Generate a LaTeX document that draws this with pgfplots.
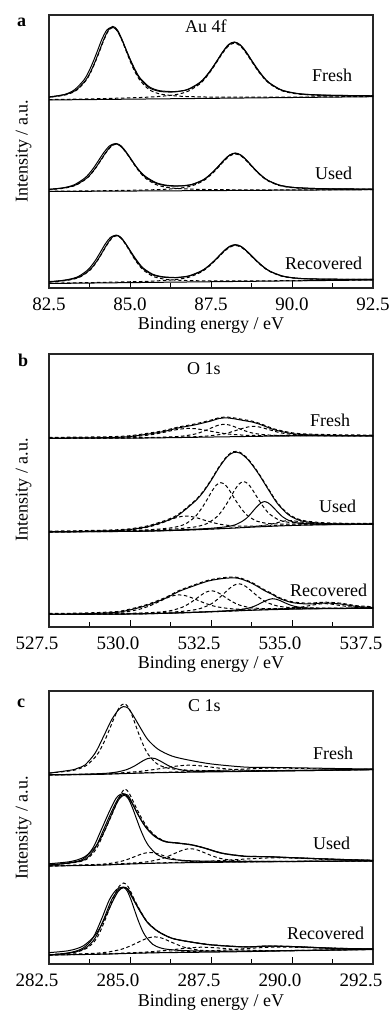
\documentclass[border=0pt]{standalone}
\usepackage{fontspec}
\setmainfont{Liberation Serif}
\usepackage{pgfplots}
\pgfplotsset{compat=1.18}
\pgfplotsset{
 xpsaxis/.style={anchor=south west, scale only axis, width=324pt, height=273pt, ymin=0, ymax=273, ytick=\empty,
   xtick pos=left, tick align=inside, major tick length=7pt, minor tick length=5pt,
   axis line style={line width=1.2pt, black!85}, every tick/.style={black, line width=1pt},
   /pgf/number format/assume math mode=true,
   xticklabel style={font=\fontsize{19}{21}\selectfont, anchor=base, yshift=-22.5pt,
     /pgf/number format/fixed, /pgf/number format/fixed zerofill, /pgf/number format/precision=1,
     /pgf/number format/assume math mode=true}},
 sol/.style={black, line width=1pt, smooth, tension=0.5, no marks},
 das/.style={black, line width=1pt, smooth, tension=0.5, no marks, dash pattern=on 3.5pt off 2.5pt},
}
\newcommand{\lab}{\fontsize{18}{20}\selectfont}
\begin{document}
\begin{tikzpicture}
\useasboundingbox (0pt,0pt) rectangle (389pt,1014pt);
% ================= Panel a: Au 4f =================
\begin{axis}[xpsaxis, at={(49pt,726pt)}, xmin=82.5, xmax=92.5,
  xtick={82.5,85,87.5,90,92.5}, minor xtick={83.75,86.25,88.75,91.25}]
% Fresh
\addplot[sol] coordinates {(82.5,188) (92.5,191.3)};
\addplot[das] coordinates {(82.23,190.0) (82.79,191.8) (83.07,193.6) (83.35,197.7) (83.63,207.0) (83.77,214.6) (83.91,224.5) (84.05,235.9) (84.19,247.6) (84.33,256.9) (84.47,260.6) (84.61,257.0) (84.75,247.7) (84.89,236.2) (85.03,224.8) (85.17,215.1) (85.31,207.5) (85.59,198.4) (85.87,194.5) (86.15,192.9) (86.71,191.5) (87.83,190.8) (90.07,190.9) (92.5,191.5)};
\addplot[das] coordinates {(82.5,188.4) (83.9,189.2) (85.34,190.5) (86.06,192.0) (86.42,193.4) (86.78,196.6) (87.14,203.7) (87.32,209.6) (87.5,217.2) (87.68,225.9) (87.86,234.9) (88.04,242.0) (88.22,244.9) (88.40,242.1) (88.58,235.1) (88.76,226.3) (88.94,217.6) (89.12,210.2) (89.30,204.4) (89.66,197.6) (90.02,194.7) (90.38,193.4) (91.1,192.4) (92.54,192.0)};
\addplot[sol] coordinates {(82.5,191.1) (82.79,192.3) (83.07,194.1) (83.35,198.3) (83.63,207.7) (83.77,215.3) (83.91,225.3) (84.05,236.7) (84.19,248.5) (84.33,257.8) (84.47,261.6) (84.61,258.1) (84.75,248.8) (84.89,237.4) (85.03,226.1) (85.17,216.6) (85.31,209.1) (85.59,200.3) (85.87,196.9) (86.15,196.0) (86.42,196.2) (86.78,198.6) (87.14,205.2) (87.32,210.9) (87.5,218.4) (87.68,227.0) (87.86,235.9) (88.04,242.9) (88.22,245.7) (88.40,242.8) (88.58,235.8) (88.76,226.9) (88.94,218.2) (89.12,210.7) (89.30,204.9) (89.66,198.0) (90.02,195.1) (90.38,193.7) (91.1,192.7) (92.5,192.2)};
\addplot[sol] coordinates {(82.5,190.6) (82.74,192.0) (83.02,193.9) (83.29,198.3) (83.57,207.7) (83.71,215.3) (83.85,225.3) (83.99,236.7) (84.13,248.5) (84.28,257.8) (84.43,260.6) (84.58,258.5) (84.73,249.5) (84.88,238.2) (85.03,227.0) (85.17,217.6) (85.31,210.0) (85.59,201.3) (85.87,197.6) (86.15,196.6) (86.42,196.5) (86.78,198.3) (87.14,204.6) (87.32,210.2) (87.5,217.9) (87.68,226.8) (87.86,236.0) (88.04,243.4) (88.22,246.0) (88.40,243.3) (88.58,236.4) (88.76,227.4) (88.94,218.8) (89.12,211.1) (89.30,205.2) (89.66,198.3) (90.02,195.3) (90.38,193.8) (91.1,192.8) (92.5,192.2)};
% Used
\addplot[sol] coordinates {(82.5,96.5) (92.5,98.3)};
\addplot[das] coordinates {(82.09,97.8) (82.71,98.9) (83.02,100.1) (83.33,102.8) (83.64,108.9) (83.795,113.8) (83.95,120.3) (84.105,127.8) (84.26,135.3) (84.415,141.4) (84.57,143.9) (84.725,141.5) (84.88,135.4) (85.035,128.0) (85.19,120.5) (85.345,114.1) (85.5,109.2) (85.81,103.3) (86.12,100.7) (86.43,99.6) (87.05,98.7) (88.29,98.2) (90.77,98.2) (92.5,98.4)};
\addplot[das] coordinates {(82.5,96.7) (84.23,97.3) (85.57,98.1) (86.24,99.0) (86.575,100.0) (86.91,102.1) (87.245,106.8) (87.41,110.7) (87.58,115.7) (87.75,121.5) (87.915,127.4) (88.08,132.1) (88.25,134.0) (88.42,132.2) (88.585,127.5) (88.75,121.7) (88.92,115.9) (89.09,111.0) (89.255,107.2) (89.59,102.6) (89.925,100.6) (90.26,99.8) (90.93,99.1) (92.27,98.8) (92.5,98.7)};
\addplot[sol] coordinates {(82.5,98.7) (82.71,99.2) (83.02,100.4) (83.33,103.1) (83.64,109.3) (83.795,114.2) (83.95,120.7) (84.105,128.3) (84.26,135.8) (84.415,141.9) (84.57,144.5) (84.725,142.1) (84.88,136.1) (85.035,128.8) (85.19,121.3) (85.345,115.0) (85.5,110.2) (85.81,104.6) (86.12,102.3) (86.43,101.9) (86.575,102.1) (86.91,103.6) (87.245,108.0) (87.41,111.8) (87.58,116.7) (87.75,122.4) (87.915,128.2) (88.08,132.8) (88.25,134.7) (88.42,132.8) (88.585,128.1) (88.75,122.2) (88.92,116.4) (89.09,111.4) (89.255,107.6) (89.59,103.0) (89.925,100.9) (90.26,100.1) (90.93,99.3) (92.27,98.9) (92.5,98.85)};
\addplot[sol] coordinates {(82.5,98.4) (82.65,99.1) (82.96,100.3) (83.27,103.1) (83.58,109.3) (83.735,114.2) (83.89,120.7) (84.045,128.3) (84.2,135.8) (84.36,141.9) (84.52,144.2) (84.69,142.4) (84.85,136.8) (85.01,129.6) (85.17,122.2) (85.33,115.9) (85.5,111.0) (85.81,105.3) (86.12,102.8) (86.43,102.1) (86.575,102.0) (86.91,103.3) (87.245,107.6) (87.41,111.5) (87.58,116.6) (87.75,122.5) (87.915,128.5) (88.08,133.1) (88.25,135.0) (88.42,133.0) (88.585,128.3) (88.75,122.4) (88.92,116.6) (89.09,111.5) (89.255,107.7) (89.59,103.1) (89.925,101.0) (90.26,100.1) (90.93,99.3) (92.27,98.9) (92.5,98.85)};
% Recovered
\addplot[sol] coordinates {(82.5,4.5) (92.5,8.0)};
\addplot[das] coordinates {(82.34,5.8) (82.9,7.0) (83.18,8.3) (83.46,11.0) (83.74,17.1) (83.88,22.1) (84.02,28.5) (84.16,36.1) (84.30,43.6) (84.44,49.8) (84.58,52.2) (84.72,49.9) (84.86,43.8) (85.0,36.4) (85.14,28.9) (85.28,22.6) (85.42,17.7) (85.70,11.8) (85.98,9.3) (86.26,8.2) (86.82,7.4) (87.94,7.0) (90.18,7.4) (92.5,8.1)};
\addplot[das] coordinates {(82.5,4.8) (83.93,5.5) (85.37,6.5) (86.09,7.6) (86.45,8.6) (86.81,10.7) (87.17,15.5) (87.35,19.3) (87.53,24.3) (87.71,30.0) (87.89,35.9) (88.07,40.6) (88.25,42.5) (88.43,40.8) (88.61,36.1) (88.79,30.4) (88.97,24.8) (89.15,19.9) (89.33,16.2) (89.69,11.7) (90.05,9.9) (90.41,9.1) (91.13,8.6) (92.57,8.5)};
\addplot[sol] coordinates {(82.5,6.4) (82.9,7.3) (83.18,8.7) (83.46,11.4) (83.74,17.6) (83.88,22.6) (84.02,29.0) (84.16,36.6) (84.30,44.2) (84.44,50.4) (84.58,52.9) (84.72,50.6) (84.86,44.6) (85.0,37.2) (85.14,29.8) (85.28,23.6) (85.42,18.8) (85.70,13.1) (85.98,11.0) (86.26,10.4) (86.45,10.5) (86.81,12.1) (87.17,16.6) (87.35,20.2) (87.53,25.1) (87.71,30.7) (87.89,36.6) (88.07,41.2) (88.25,43.0) (88.43,41.3) (88.61,36.6) (88.79,30.8) (88.97,25.2) (89.15,20.3) (89.33,16.5) (89.69,12.0) (90.05,10.1) (90.41,9.3) (91.13,8.8) (92.5,8.6)};
\addplot[sol] coordinates {(82.5,6.0) (82.84,7.2) (83.12,8.7) (83.40,11.4) (83.68,17.6) (83.82,22.6) (83.96,29.0) (84.10,36.6) (84.24,44.2) (84.39,50.4) (84.54,52.6) (84.69,51.0) (84.84,45.4) (84.99,38.2) (85.14,30.8) (85.28,24.6) (85.42,19.6) (85.70,13.8) (85.98,11.4) (86.26,10.6) (86.45,10.4) (86.81,11.8) (87.17,16.2) (87.35,19.9) (87.53,24.9) (87.71,30.8) (87.89,36.9) (88.07,41.6) (88.25,43.4) (88.43,41.6) (88.61,36.8) (88.79,31.0) (88.97,25.4) (89.15,20.4) (89.33,16.6) (89.69,12.1) (90.05,10.1) (90.41,9.3) (91.13,8.8) (92.5,8.6)};
\end{axis}
% ================= Panel b: O 1s =================
\begin{axis}[xpsaxis, at={(49pt,387pt)}, xmin=527.5, xmax=537.5,
  xtick={527.5,530,532.5,535,537.5}, minor xtick={528.75,531.25,533.75,536.25},
  xticklabel style={xshift=-12pt}]
% Fresh
\addplot[sol] coordinates {(527.5,188.7) (530,188.9) (531,189.2) (532,189.7) (533,190.2) (534,190.7) (535,191.0) (537.5,191.0)};
\addplot[das] coordinates {(527.5,188.9) (528.2,189.0) (529.1,189.3) (529.55,189.5) (530.0,190.1) (530.45,191.4) (530.675,192.4) (530.9,193.7) (531.125,195.2) (531.35,196.8) (531.575,198.0) (531.8,198.6) (532.025,198.25) (532.25,197.2) (532.475,195.9) (532.7,194.55) (532.925,193.4) (533.15,192.6) (533.6,191.7) (534.05,191.4) (534.5,191.3) (535.4,191.3) (537.2,191.1) (537.5,191.1)};
\addplot[das] coordinates {(527.5,188.8) (529.3,189.0) (530.5,189.4) (531.1,189.9) (531.4,190.3) (531.7,191.2) (532.0,192.9) (532.15,194.3) (532.3,196.1) (532.45,198.2) (532.6,200.25) (532.75,202.0) (532.9,202.65) (533.05,202.1) (533.2,200.55) (533.35,198.6) (533.5,196.7) (533.65,195.1) (533.8,193.8) (534.1,192.4) (534.4,191.8) (534.7,191.55) (535.3,191.4) (536.5,191.2) (537.5,191.1)};
\addplot[das] coordinates {(527.5,188.75) (529.9,189.0) (531.2,189.6) (531.85,190.1) (532.175,190.5) (532.5,191.3) (532.825,192.7) (532.99,193.8) (533.15,195.3) (533.31,196.95) (533.475,198.6) (533.64,200.0) (533.8,200.6) (533.96,200.2) (534.125,198.9) (534.29,197.4) (534.45,195.8) (534.61,194.5) (534.775,193.5) (535.1,192.3) (535.425,191.8) (535.75,191.5) (536.4,191.3) (537.5,191.15)};
\addplot[sol] coordinates {(527.5,188.9) (528.5,189.1) (529.5,189.5) (530.0,190.5) (530.5,192.6) (531.0,195.2) (531.5,199.1) (532.0,202.1) (532.5,206.0) (532.75,208.5) (533.0,209.1) (533.25,208.0) (533.5,206.5) (533.75,205.1) (534.0,202.8) (534.25,199.6) (534.5,196.8) (535.0,193.4) (535.5,192.2) (536.5,191.5) (537.5,191.2)};
\addplot[das] coordinates {(527.5,189.6) (528.5,189.9) (529.5,190.4) (530.0,191.3) (530.5,193.5) (531.0,196.1) (531.5,200.0) (532.0,203.0) (532.5,206.9) (532.75,209.3) (533.0,209.9) (533.25,208.9) (533.5,207.4) (533.75,206.0) (534.0,203.6) (534.25,200.5) (534.5,197.6) (535.0,194.2) (535.5,192.9) (536.5,192.2) (537.5,191.9)};
% Used
\addplot[sol] coordinates {(527.5,95.0) (530,95.6) (531,96.2) (532,97.2) (533,98.6) (534,100.2) (535,101.5) (536,102.2) (537.5,102.7)};
\addplot[das] coordinates {(527.5,95.2) (528.5,95.65) (529.3,96.1) (529.7,96.6) (530.1,97.5) (530.5,99.5) (530.7,101.1) (530.9,103.1) (531.1,105.5) (531.3,108.0) (531.5,110.0) (531.7,110.9) (531.9,110.4) (532.1,108.8) (532.3,106.8) (532.5,104.9) (532.7,103.3) (532.9,102.1) (533.3,100.9) (533.7,100.8) (534.1,101.0) (534.9,101.8) (536.5,102.6) (537.5,102.8)};
\addplot[das] coordinates {(527.5,95.25) (529.5,96.1) (530.6,97.3) (531.15,98.7) (531.425,100.1) (531.7,102.9) (531.975,109.1) (532.11,114.1) (532.25,120.55) (532.39,128.0) (532.525,135.6) (532.66,141.8) (532.8,144.3) (532.94,142.2) (533.075,136.4) (533.21,129.2) (533.35,122.2) (533.49,116.1) (533.625,111.5) (533.9,106.0) (534.175,103.9) (534.45,103.1) (535.0,102.85) (536.1,102.9) (537.5,103.0)};
\addplot[das] coordinates {(527.5,95.2) (530.2,96.3) (531.3,97.85) (531.85,99.4) (532.125,100.85) (532.4,103.8) (532.675,110.05) (532.81,115.0) (532.95,121.5) (533.09,129.0) (533.225,136.6) (533.36,142.8) (533.5,145.4) (533.64,143.3) (533.775,137.5) (533.91,130.4) (534.05,123.3) (534.19,117.15) (534.325,112.5) (534.6,107.0) (534.875,104.8) (535.15,104.0) (535.7,103.3) (536.8,103.1) (537.5,103.1)};
\addplot[das] coordinates {(527.5,95.0) (530,95.65) (531,96.25) (532,97.3) (532.9,98.6) (533.4,99.5) (533.65,100.0) (533.9,100.7) (534.15,101.7) (534.275,102.4) (534.4,103.2) (534.525,104.2) (534.65,105.15) (534.775,106.0) (534.9,106.4) (535.025,106.3) (535.15,105.7) (535.275,105.0) (535.4,104.3) (535.525,103.7) (535.65,103.3) (535.9,102.8) (536.15,102.7) (536.4,102.6) (536.9,102.65) (537.5,102.8)};
\addplot[sol] coordinates {(527.5,95.06) (529.65,95.65) (530.5,96.0) (531.45,97.0) (532.35,98.4) (532.8,99.6) (533.025,100.5) (533.25,102.25) (533.475,105.9) (533.59,108.6) (533.7,112.2) (533.81,116.4) (533.925,120.6) (534.04,123.95) (534.15,125.4) (534.26,124.2) (534.375,121.2) (534.49,117.3) (534.6,113.5) (534.71,110.2) (534.825,107.8) (535.05,104.8) (535.275,103.6) (535.5,103.1) (535.95,102.9) (536.85,102.8) (537.5,102.9)};
\addplot[sol] coordinates {(527.5,95.2) (528.5,95.6) (529.5,96.4) (530.0,97.5) (530.5,100.0) (530.8,102.7) (531.2,107.0) (531.5,112.0) (532.0,125.5) (532.25,134.5) (532.5,146.3) (532.75,159.5) (533.0,170.3) (533.2,174.6) (533.4,173.8) (533.65,167.0) (533.95,154.0) (534.25,138.5) (534.55,123.5) (534.9,112.0) (535.3,106.0) (535.9,103.7) (536.6,103.0) (537.5,102.8)};
\addplot[das] coordinates {(527.5,95.9) (528.5,96.3) (529.5,97.1) (530.0,98.2) (530.5,100.8) (530.8,103.5) (531.2,107.9) (531.5,112.9) (532.0,126.3) (532.25,135.3) (532.5,147.1) (532.75,160.3) (533.0,171.1) (533.2,175.4) (533.4,174.6) (533.65,167.8) (533.95,154.8) (534.25,139.3) (534.55,124.3) (534.9,112.8) (535.3,106.8) (535.9,104.4) (536.6,103.7) (537.5,103.5)};
% Recovered
\addplot[sol] coordinates {(527.5,12.5) (530,13.0) (531,13.6) (532,14.6) (533,15.8) (534,17.0) (535,17.8) (536,18.3) (537.5,18.7)};
\addplot[das] coordinates {(527.5,12.85) (528.3,13.2) (529.1,13.7) (529.5,14.3) (529.9,15.3) (530.3,17.8) (530.5,19.85) (530.7,22.4) (530.9,25.4) (531.1,28.5) (531.3,31.0) (531.5,32.1) (531.7,31.4) (531.9,29.3) (532.1,26.6) (532.3,23.96) (532.5,21.75) (532.7,20.1) (533.1,18.3) (533.5,17.8) (533.9,17.8) (534.7,18.1) (536.3,18.6) (537.5,18.9)};
\addplot[das] coordinates {(527.5,12.65) (528.9,13.1) (530.1,13.7) (530.7,14.5) (531.0,15.2) (531.3,16.65) (531.6,19.6) (531.75,22.0) (531.9,25.0) (532.05,28.5) (532.2,32.0) (532.35,34.9) (532.5,36.2) (532.65,35.3) (532.8,32.8) (532.95,29.5) (533.1,26.4) (533.25,23.7) (533.4,21.7) (533.7,19.4) (534.0,18.6) (534.3,18.3) (534.9,18.3) (536.1,18.6) (537.5,18.85)};
\addplot[das] coordinates {(527.5,12.65) (529.75,13.3) (530.95,14.4) (531.55,15.5) (531.85,16.5) (532.15,18.3) (532.45,22.1) (532.6,25.15) (532.75,29.0) (532.9,33.5) (533.05,38.0) (533.2,41.6) (533.35,43.2) (533.5,42.0) (533.65,38.7) (533.8,34.6) (533.95,30.4) (534.1,26.9) (534.25,24.2) (534.55,21.0) (534.85,19.7) (535.15,19.3) (535.75,19.0) (536.95,18.9) (537.5,19.0)};
\addplot[das] coordinates {(527.5,12.5) (530,13.02) (531,13.62) (532,14.63) (533,15.84) (533.6,16.7) (534.2,17.4) (534.5,17.8) (534.8,18.3) (535.1,19.15) (535.25,19.75) (535.4,20.5) (535.55,21.4) (535.7,22.25) (535.85,23.0) (536.0,23.3) (536.15,23.1) (536.3,22.5) (536.45,21.7) (536.6,21.0) (536.75,20.3) (536.9,19.8) (537.2,19.3) (537.5,19.1)};
\addplot[sol] coordinates {(527.5,12.5) (529.9,13.0) (531,13.7) (531.7,14.45) (532.6,15.6) (533.05,16.4) (533.275,17.0) (533.5,17.8) (533.725,19.5) (533.84,20.8) (533.95,22.4) (534.06,24.3) (534.175,26.1) (534.29,27.6) (534.4,28.3) (534.51,27.8) (534.625,26.5) (534.74,24.8) (534.85,23.2) (534.96,21.8) (535.075,20.7) (535.3,19.4) (535.525,18.9) (535.75,18.7) (536.2,18.7) (537.1,18.75) (537.5,18.8)};
\addplot[sol] coordinates {(527.5,12.8) (528.5,13.2) (529.5,14.5) (529.85,16.0) (530.46,21.0) (531.08,28.5) (531.49,35.3) (531.9,40.3) (532.42,46.0) (532.93,48.7) (533.34,48.7) (533.76,43.7) (534.17,36.0) (534.4,32.5) (534.58,29.0) (534.99,24.5) (535.5,23.0) (536.0,24.0) (536.5,23.0) (537.0,20.5) (537.5,19.5)};
\addplot[das] coordinates {(527.5,13.5) (528.5,13.9) (529.5,15.2) (529.85,16.8) (530.46,21.8) (531.08,29.3) (531.49,36.1) (531.9,41.1) (532.42,46.8) (532.93,49.5) (533.34,49.5) (533.76,44.5) (534.17,36.8) (534.4,33.3) (534.58,29.8) (534.99,25.3) (535.5,23.8) (536.0,24.8) (536.5,23.8) (537.0,21.3) (537.5,20.3)};
\end{axis}
% ================= Panel c: C 1s =================
\begin{axis}[xpsaxis, at={(49pt,50pt)}, xmin=282.5, xmax=292.5,
  xtick={282.5,285,287.5,290,292.5}, minor xtick={283.75,286.25,288.75,291.25},
  xticklabel style={xshift=-12pt}]
% Fresh
\addplot[sol] coordinates {(282.5,189.0) (284,189.6) (285,190.6) (286,191.4) (288,192.3) (290,193.2) (292.5,194.3)};
\addplot[das] coordinates {(282.5,191.0) (283.08,192.8) (283.37,194.6) (283.66,198.7) (283.95,207.7) (284.095,215.2) (284.24,224.8) (284.385,236.1) (284.53,247.5) (284.675,256.7) (284.82,260.4) (284.945,256.9) (285.07,248.1) (285.195,236.9) (285.32,225.9) (285.445,216.5) (285.57,209.2) (285.82,200.5) (286.07,196.7) (286.32,195.1) (286.82,193.8) (287.82,193.2) (289.82,193.5) (292.5,194.9)};
\addplot[sol] coordinates {(282.5,189.2) (283.65,189.9) (284.15,190.5) (284.4,191.1) (284.65,192.3) (284.9,194.4) (285.025,196.1) (285.15,198.2) (285.275,200.7) (285.4,203.2) (285.525,205.2) (285.65,206.1) (285.775,205.4) (285.9,203.6) (286.025,201.3) (286.15,199.0) (286.275,197.0) (286.4,195.5) (286.65,193.7) (286.9,192.9) (287.15,192.7) (287.65,192.6) (288.65,192.8) (290.5,193.4) (292.5,194.35)};
\addplot[das] coordinates {(282.5,189.15) (282.8,189.3) (283.8,189.9) (284.3,190.4) (284.8,191.3) (285.3,192.6) (285.55,193.6) (285.8,194.7) (286.05,196.0) (286.3,197.3) (286.55,198.3) (286.8,198.8) (287.05,198.5) (287.3,197.7) (287.55,196.7) (287.8,195.7) (288.05,194.9) (288.3,194.2) (288.8,193.6) (289.3,193.4) (289.8,193.5) (290.8,193.75) (292.5,194.4)};
\addplot[das] coordinates {(282.5,189.1) (283.3,189.4) (284.0,189.8) (284.8,190.6) (285.5,191.3) (286.3,191.9) (287.05,192.65) (287.8,193.7) (288.55,195.0) (289.3,195.9) (290.05,195.7) (290.8,195.05) (291.55,194.7) (292.3,194.6) (292.5,194.6)};
\addplot[sol] coordinates {(282.5,190.8) (283.2,194.0) (283.4,196.0) (283.61,199.0) (283.92,210.7) (284.18,227.3) (284.43,244.0) (284.64,254.0) (284.79,257.3) (284.95,255.7) (285.15,245.7) (285.36,234.0) (285.56,224.0) (285.87,214.7) (286.29,208.0) (286.8,204.0) (287.52,200.0) (288.55,196.9) (289.2,196.6) (290.5,196.0) (291.5,195.4) (292.5,195.0)};
% Used
\addplot[sol] coordinates {(282.5,98.0) (284,98.8) (285,100.0) (286,100.9) (288,101.8) (290,102.4) (292.5,103.0)};
\addplot[sol] coordinates {(282.42,100.0) (283.02,101.8) (283.32,103.6) (283.62,107.6) (283.92,116.6) (284.07,123.9) (284.22,133.6) (284.37,144.7) (284.52,156.0) (284.67,165.1) (284.82,168.8) (284.945,165.4) (285.07,156.7) (285.195,145.7) (285.32,134.8) (285.445,125.5) (285.57,118.4) (285.82,109.7) (286.07,106.1) (286.32,104.5) (286.82,103.3) (287.82,102.7) (289.82,102.7) (292.5,103.2)};
\addplot[das] coordinates {(282.5,98.2) (283.2,98.7) (283.8,99.25) (284.1,99.75) (284.4,100.7) (284.7,102.5) (284.85,103.8) (285.0,105.5) (285.15,107.4) (285.3,109.3) (285.45,110.8) (285.6,111.5) (285.75,111.1) (285.9,109.8) (286.05,108.2) (286.2,106.5) (286.35,105.1) (286.5,104.0) (286.8,102.7) (287.1,102.2) (287.4,102.1) (288.0,102.1) (289.2,102.3) (292.5,103.0)};
\addplot[das] coordinates {(282.5,98.1) (282.95,98.4) (284.25,99.5) (284.9,100.6) (285.225,101.3) (285.55,102.3) (285.875,104.4) (286.04,106.0) (286.2,108.0) (286.36,110.3) (286.525,112.6) (286.69,114.5) (286.85,115.3) (287.01,114.7) (287.175,112.9) (287.34,110.7) (287.5,108.6) (287.66,106.8) (287.825,105.3) (288.15,103.7) (288.475,103.0) (288.8,102.75) (289.45,102.65) (290.75,102.8) (292.5,103.1)};
\addplot[das] coordinates {(282.5,98.1) (283.5,98.65) (284.3,99.3) (285.0,100.2) (285.8,101.0) (286.5,101.65) (287.25,102.5) (288.0,103.8) (288.75,105.3) (289.5,106.25) (290.25,105.7) (291.0,104.6) (291.75,103.9) (292.5,103.5)};
\addplot[sol] coordinates {(282.5,99.0) (283.2,101.3) (283.61,104.7) (283.92,115.7) (284.18,134.0) (284.43,152.3) (284.64,165.7) (284.76,169.0) (284.93,169.0) (285.1,159.0) (285.31,145.7) (285.51,135.7) (285.77,127.3) (286.08,122.3) (286.49,120.7) (286.9,119.0) (287.31,115.7) (287.83,110.7) (288.55,107.6) (289.2,107.3) (290.2,106.0) (291.3,104.7) (292.5,103.6)};
\addplot[sol] coordinates {(282.5,98.8) (283.13,101.3) (283.54,104.7) (283.85,115.7) (284.11,134.0) (284.36,152.3) (284.57,165.7) (284.7,169.5) (284.85,170.0) (285.05,161.5) (285.28,147.5) (285.5,136.5) (285.77,127.8) (286.08,122.6) (286.49,121.0) (286.9,119.3) (287.31,116.0) (287.83,111.0) (288.55,107.8) (289.2,107.4) (290.2,106.1) (291.3,104.8) (292.5,103.6)};
\addplot[das] coordinates {(282.5,99.0) (283.25,101.3) (283.66,104.7) (283.97,115.7) (284.23,134.0) (284.48,152.3) (284.68,167.5) (284.84,175.0) (284.98,170.5) (285.15,159.0) (285.36,145.7) (285.56,135.7) (285.82,127.3) (286.13,122.3) (286.49,120.9) (286.9,119.2) (287.31,115.9) (287.83,110.9) (288.55,107.8) (289.2,107.4) (290.2,106.1) (291.3,104.8) (292.5,103.7)};
% Recovered
\addplot[sol] coordinates {(282.5,9.0) (284,9.7) (285,10.6) (286,11.3) (288,12.1) (290,13.2) (292.5,14.5)};
\addplot[sol] coordinates {(282.32,10.9) (282.94,12.6) (283.25,14.35) (283.56,18.15) (283.87,26.7) (284.025,33.7) (284.18,42.9) (284.335,53.5) (284.49,64.2) (284.645,72.9) (284.8,76.4) (284.9125,73.1) (285.025,64.7) (285.1375,54.2) (285.25,43.8) (285.3625,34.9) (285.475,28.0) (285.7,19.7) (285.925,16.25) (286.15,14.7) (286.6,13.5) (287.5,12.8) (288.4,12.8) (289.3,13.15) (292.5,14.6)};
\addplot[das] coordinates {(282.5,9.36) (283.65,10.36) (284.0,10.9) (284.35,12.1) (284.7,14.4) (284.875,16.3) (285.05,18.6) (285.225,21.3) (285.4,24.0) (285.575,26.2) (285.75,27.1) (285.925,26.45) (286.1,24.4) (286.275,21.9) (286.45,19.5) (286.625,17.3) (286.8,15.7) (287.15,13.8) (287.5,13.1) (287.85,12.8) (288.55,12.9) (289.95,13.4) (292.5,14.6)};
\addplot[das] coordinates {(282.5,9.1) (283.2,9.5) (284.2,10.1) (284.7,10.7) (285.2,11.4) (285.7,12.4) (285.95,13.1) (286.2,13.9) (286.45,14.8) (286.7,15.7) (286.95,16.4) (287.2,16.8) (287.45,16.6) (287.7,16.1) (287.95,15.4) (288.2,14.7) (288.45,14.2) (288.7,13.8) (289.2,13.4) (289.7,13.4) (290.2,13.6) (291.2,14.0) (292.5,14.6)};
\addplot[das] coordinates {(282.5,9.1) (283.5,9.6) (284.3,10.1) (285.0,10.8) (285.8,11.5) (286.5,12.0) (287.25,12.8) (288.0,14.1) (288.75,15.8) (289.5,16.9) (290.25,16.6) (291.0,15.7) (291.75,15.15) (292.5,15.0)};
\addplot[sol] coordinates {(282.5,9.0) (283.2,11.3) (283.61,15.7) (283.92,25.7) (284.18,44.0) (284.43,64.0) (284.64,74.0) (284.79,76.7) (284.95,74.7) (285.15,62.3) (285.36,50.7) (285.56,40.7) (285.87,32.3) (286.29,25.7) (286.8,22.3) (287.52,19.0) (288.55,17.0) (289.2,17.8) (290.0,17.4) (291.3,15.7) (292.5,15.0)};
\addplot[sol] coordinates {(282.5,8.8) (283.13,11.3) (283.54,15.7) (283.85,25.7) (284.11,44.0) (284.36,64.0) (284.57,74.0) (284.73,76.7) (284.9,75.5) (285.1,64.5) (285.32,52.0) (285.54,41.5) (285.87,32.6) (286.29,25.9) (286.8,22.5) (287.52,19.2) (288.55,17.1) (289.2,17.9) (290.0,17.5) (291.3,15.8) (292.5,15.0)};
\addplot[das] coordinates {(282.5,9.3) (283.25,11.4) (283.66,15.7) (283.97,25.5) (284.23,44.0) (284.48,65.5) (284.66,77.5) (284.81,81.0) (284.95,77.0) (285.12,65.5) (285.32,53.0) (285.54,42.0) (285.87,32.6) (286.29,25.8) (286.8,22.4) (287.52,19.2) (288.55,17.2) (289.2,17.9) (290.0,17.5) (291.3,15.8) (292.5,15.1)};
\end{axis}
% ================= Text =================
\node[anchor=base west, font=\lab\bfseries, inner sep=0pt] at (17pt,987pt) {a};
\node[anchor=base west, font=\lab\bfseries, inner sep=0pt] at (18pt,647pt) {b};
\node[anchor=base west, font=\lab\bfseries, inner sep=0pt] at (17pt,306pt) {c};
\node[anchor=base west, font=\lab, inner sep=0pt] at (185pt,981pt) {Au 4f};
\node[anchor=base west, font=\lab, inner sep=0pt] at (187pt,639pt) {O 1s};
\node[anchor=base west, font=\lab, inner sep=0pt] at (188pt,302pt) {C 1s};
\node[anchor=base west, font=\lab, inner sep=0pt] at (312pt,932pt) {Fresh};
\node[anchor=base west, font=\lab, inner sep=0pt] at (315pt,834pt) {Used};
\node[anchor=base west, font=\lab, inner sep=0pt] at (285pt,744pt) {Recovered};
\node[anchor=base west, font=\lab, inner sep=0pt] at (310pt,587pt) {Fresh};
\node[anchor=base west, font=\lab, inner sep=0pt] at (319pt,501pt) {Used};
\node[anchor=base west, font=\lab, inner sep=0pt] at (290pt,417pt) {Recovered};
\node[anchor=base west, font=\lab, inner sep=0pt] at (313pt,254pt) {Fresh};
\node[anchor=base west, font=\lab, inner sep=0pt] at (313pt,164pt) {Used};
\node[anchor=base west, font=\lab, inner sep=0pt] at (287pt,74pt) {Recovered};
\node[anchor=base, font=\lab, inner sep=0pt] at (211pt,684pt) {Binding energy / eV};
\node[anchor=base, font=\lab, inner sep=0pt] at (211pt,345pt) {Binding energy / eV};
\node[anchor=base, font=\lab, inner sep=0pt] at (211pt,8pt) {Binding energy / eV};
\node[anchor=base, rotate=90, font=\lab, inner sep=0pt] at (27.5pt,862.5pt) {Intensity / a.u.};
\node[anchor=base, rotate=90, font=\lab, inner sep=0pt] at (27.5pt,524pt) {Intensity / a.u.};
\node[anchor=base, rotate=90, font=\lab, inner sep=0pt] at (27.5pt,186pt) {Intensity / a.u.};
\end{tikzpicture}
\end{document}
